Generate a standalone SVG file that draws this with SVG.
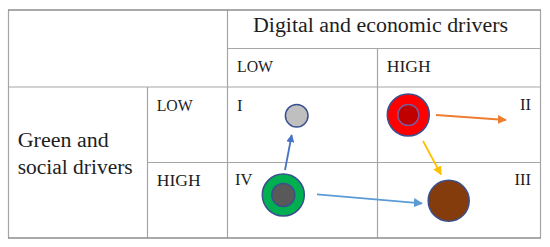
<svg xmlns="http://www.w3.org/2000/svg" width="550" height="247" viewBox="0 0 550 247">
<defs>
<style>
.t{font-family:"Liberation Serif","Times New Roman",serif;fill:#1e1e1e;}
.big{font-size:20px;}
.sm{font-size:16.5px;}
.in{stroke:#a6a6a6;stroke-width:1.2;fill:none;}
.out{stroke:#8c8c8c;stroke-width:1.6;fill:none;}
.node{stroke:#3a4f8e;stroke-width:1.5;}
.arr{fill:none;stroke-width:1.8;}
</style>
<marker id="mb" viewBox="0 0 10 10" refX="9" refY="5" markerWidth="8" markerHeight="8" markerUnits="userSpaceOnUse" orient="auto"><path d="M0,0 L10,5 L0,10 z" fill="#4472c4"/></marker>
<marker id="mlb" viewBox="0 0 10 10" refX="9" refY="5" markerWidth="9" markerHeight="9" markerUnits="userSpaceOnUse" orient="auto"><path d="M0,0 L10,5 L0,10 z" fill="#5b9bd5"/></marker>
<marker id="mo" viewBox="0 0 10 10" refX="9" refY="5" markerWidth="9" markerHeight="9" markerUnits="userSpaceOnUse" orient="auto"><path d="M0,0 L10,5 L0,10 z" fill="#ed7d31"/></marker>
<marker id="my" viewBox="0 0 10 10" refX="9" refY="5" markerWidth="9" markerHeight="9" markerUnits="userSpaceOnUse" orient="auto"><path d="M0,0 L10,5 L0,10 z" fill="#ffc000"/></marker>
</defs>
<rect width="550" height="247" fill="#fff"/>
<g id="table">
<line class="in" x1="228" y1="48.5" x2="541" y2="48.5"/>
<line class="in" x1="8.5" y1="87" x2="541" y2="87"/>
<line class="in" x1="147.5" y1="162.5" x2="541" y2="162.5"/>
<line class="in" x1="227.5" y1="10" x2="227.5" y2="238"/>
<line class="in" x1="147.5" y1="87" x2="147.5" y2="238"/>
<line class="in" x1="377.5" y1="48.5" x2="377.5" y2="238"/>
<line class="in" x1="8.5" y1="10" x2="8.5" y2="238"/>
<line class="in" x1="540.5" y1="10" x2="540.5" y2="238"/>
<line class="out" x1="8" y1="10" x2="541" y2="10"/>
<line class="out" x1="8" y1="238" x2="541" y2="238"/>
<text class="t big" x="253" y="31.5" textLength="255" lengthAdjust="spacingAndGlyphs">Digital and economic drivers</text>
<text class="t sm" x="237" y="72.3" textLength="36" lengthAdjust="spacingAndGlyphs">LOW</text>
<text class="t sm" x="386.7" y="72.3" textLength="44" lengthAdjust="spacingAndGlyphs">HIGH</text>
<text class="t big" x="17.7" y="146.7" textLength="91" lengthAdjust="spacingAndGlyphs">Green and</text>
<text class="t big" x="17.7" y="174.3" textLength="115" lengthAdjust="spacingAndGlyphs">social drivers</text>
<text class="t sm" x="156.7" y="110.7" textLength="36" lengthAdjust="spacingAndGlyphs">LOW</text>
<text class="t sm" x="156.7" y="185.7" textLength="44" lengthAdjust="spacingAndGlyphs">HIGH</text>
<text class="t sm" x="237" y="111">I</text>
<text class="t sm" x="531" y="110" text-anchor="end">II</text>
<text class="t sm" x="531" y="185.3" text-anchor="end">III</text>
<text class="t sm" x="235" y="185.3">IV</text>
</g>
<g id="node-gray">
<circle class="node" cx="296.7" cy="115.7" r="11.3" fill="#bfbfbf"/>
</g>
<g id="node-red">
<circle class="node" cx="408.3" cy="115" r="21" fill="#ff0000"/>
<circle cx="408.3" cy="115" r="10.5" fill="#c00000" stroke="#7a5a9a" stroke-width="1.5"/>
</g>
<g id="node-green">
<circle class="node" cx="283.3" cy="195" r="21" fill="#00b050"/>
<circle cx="283.3" cy="195" r="11.5" fill="#595959" stroke="#3a4f8e" stroke-width="1.5"/>
</g>
<g id="node-brown">
<circle class="node" cx="448.7" cy="200.7" r="20.5" fill="#843c0c"/>
</g>
<g id="connectors">
<line class="arr" x1="285" y1="170" x2="291.7" y2="135" stroke="#4472c4" marker-end="url(#mb)"/>
<line class="arr" x1="436" y1="115" x2="506" y2="120" stroke="#ed7d31" marker-end="url(#mo)"/>
<line class="arr" x1="423" y1="141" x2="441" y2="174.5" stroke="#ffc000" marker-end="url(#my)"/>
<line class="arr" x1="317" y1="194.3" x2="422" y2="203.3" stroke="#5b9bd5" marker-end="url(#mlb)"/>
</g>
</svg>
